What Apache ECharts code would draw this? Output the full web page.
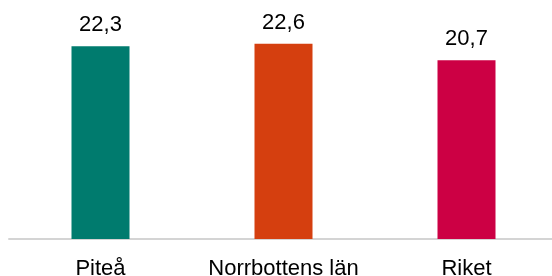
<!DOCTYPE html>
<html>
<head>
<meta charset="utf-8">
<script src="https://cdn.jsdelivr.net/npm/echarts@6/dist/echarts.min.js"></script>
<style>html,body{margin:0;padding:0;background:#fff;}#c{width:552px;height:276px;}</style>
</head>
<body>
<div id="c"></div>
<script>
const categories = ['Piteå', 'Norrbottens län', 'Riket'];
const values = [22.3, 22.6, 20.7];
const colors = ['#007B6E', '#D53F0F', '#CC0044'];

const chart = echarts.init(document.getElementById('c'), null, {renderer: 'canvas'});
chart.setOption({
  animation: false,
  grid: {left: 9, right: -6, top: 23, bottom: 37, containLabel: false, outerBoundsMode: 'none'},
  xAxis: {
    type: 'category',
    data: categories,
    axisLine: {show: true, lineStyle: {color: '#d4d4d4', width: 2}},
    axisTick: {show: false},
    axisLabel: {interval: 0, color: '#000', fontFamily: 'Liberation Sans, Arial, sans-serif', fontSize: 22, margin: 19}
  },
  yAxis: {
    type: 'value', min: 0, max: 25,
    show: false,
    splitLine: {show: false}
  },
  series: [{
    type: 'bar',
    barWidth: 58,
    data: values.map((v, i) => ({value: v, itemStyle: {color: colors[i]}})),
    label: {
      show: true, position: 'top', distance: 10,
      color: '#000', fontFamily: 'Liberation Sans, Arial, sans-serif', fontSize: 22,
      formatter: p => String(p.value).replace('.', ',')
    }
  }]
});
</script>
</body>
</html>
